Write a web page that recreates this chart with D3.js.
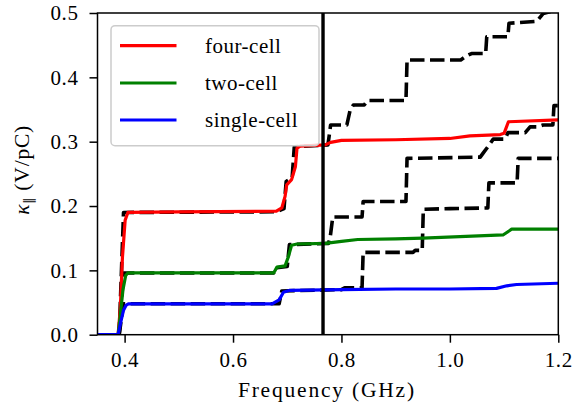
<!DOCTYPE html>
<html>
<head>
<meta charset="utf-8">
<script src="https://cdn.jsdelivr.net/npm/d3@7"></script>
<style>
  body { margin: 0; background: #fff; }
  svg { display: block; }
  text { font-family: "Liberation Serif", "Times New Roman", serif; fill: #000; }
</style>
</head>
<body>
<svg id="chart" width="573" height="406"></svg>
<script>
// Axis ticks
const xTicks = [0.4, 0.6, 0.8, 1.0, 1.2];
const yTicks = [0.0, 0.1, 0.2, 0.3, 0.4, 0.5];

// Marker frequency (GHz)
const markerFreq = 0.766;

// Loss factor vs. frequency, [GHz, V/pC] — smooth (solid) curves
const fourCell = [
  [0.35, 0], [0.388, 0], [0.392, 0.04], [0.396, 0.12], [0.401, 0.178], [0.406, 0.19],
  [0.5, 0.191], [0.68, 0.192], [0.69, 0.197], [0.696, 0.215], [0.699, 0.233],
  [0.708, 0.241], [0.715, 0.261], [0.718, 0.29], [0.724, 0.293], [0.77, 0.295],
  [0.78, 0.299], [0.80, 0.302], [0.90, 0.303], [1.0, 0.305], [1.037, 0.309],
  [1.093, 0.311], [1.1, 0.313], [1.108, 0.331], [1.2, 0.334]
];
const twoCell = [
  [0.35, 0], [0.388, 0], [0.392, 0.03], [0.397, 0.07], [0.402, 0.092], [0.406, 0.096],
  [0.675, 0.096], [0.681, 0.105], [0.696, 0.107], [0.702, 0.121], [0.708, 0.139],
  [0.718, 0.141], [0.77, 0.142], [0.80, 0.145], [0.83, 0.148], [0.9, 0.149],
  [0.95, 0.15], [1.098, 0.155], [1.114, 0.164], [1.2, 0.164]
];
const singleCell = [
  [0.35, 0], [0.388, 0], [0.393, 0.02], [0.398, 0.038], [0.403, 0.046], [0.407, 0.048],
  [0.672, 0.048], [0.685, 0.054], [0.693, 0.066], [0.705, 0.069], [0.8, 0.07],
  [0.9, 0.071], [1.0, 0.071], [1.086, 0.072], [1.105, 0.076], [1.123, 0.078],
  [1.2, 0.08]
];

// Loss factor vs. frequency, [GHz, V/pC] — stepwise (dashed) curves
const fourCellSteps = [
  [0.35, 0], [0.39, 0], [0.398, 0.19], [0.68, 0.191], [0.694, 0.196], [0.698, 0.238],
  [0.709, 0.244], [0.713, 0.292], [0.775, 0.295], [0.778, 0.313], [0.78, 0.326],
  [0.81, 0.326], [0.816, 0.349], [0.822, 0.357], [0.842, 0.357], [0.848, 0.364],
  [0.919, 0.364], [0.921, 0.427], [1.02, 0.427], [1.03, 0.433], [1.04, 0.437],
  [1.066, 0.437], [1.068, 0.463], [1.107, 0.463], [1.109, 0.484], [1.16, 0.487],
  [1.172, 0.499], [1.2, 0.506]
];
const twoCellSteps = [
  [0.35, 0], [0.39, 0], [0.398, 0.096], [0.675, 0.096], [0.68, 0.104], [0.70, 0.106],
  [0.704, 0.14], [0.776, 0.142], [0.779, 0.15], [0.784, 0.183], [0.838, 0.183],
  [0.84, 0.207], [0.919, 0.207], [0.921, 0.274], [1.056, 0.276], [1.062, 0.283],
  [1.071, 0.293], [1.08, 0.304], [1.102, 0.304], [1.107, 0.314], [1.139, 0.314],
  [1.148, 0.323], [1.161, 0.323], [1.172, 0.326], [1.19, 0.326], [1.192, 0.356],
  [1.2, 0.356]
];
const singleCellSteps = [
  [0.35, 0], [0.39, 0], [0.398, 0.048], [0.685, 0.048], [0.69, 0.068], [0.80, 0.07],
  [0.806, 0.073], [0.838, 0.073], [0.84, 0.128], [0.932, 0.128], [0.936, 0.131],
  [0.949, 0.131], [0.951, 0.195], [1.0, 0.196], [1.07, 0.197], [1.072, 0.236],
  [1.124, 0.236], [1.126, 0.274], [1.2, 0.274]
];

const legendLabels = ["four-cell", "two-cell", "single-cell"];
const seriesColors = ["#ff0000", "#008000", "#0000ff"];

const serif = '"Liberation Serif", "Times New Roman", serif';
const svg = d3.select("#chart");
const plotLeft = 97.5, plotRight = 558.3, plotTop = 13, plotBottom = 334.7;

const x = d3.scaleLinear().domain([0.35, 1.2]).range([plotLeft, plotRight]);
const y = d3.scaleLinear().domain([0, 0.5]).range([plotBottom, plotTop]);

svg.append("defs").append("clipPath").attr("id", "plot-clip")
  .append("rect")
  .attr("x", plotLeft).attr("y", plotTop)
  .attr("width", plotRight - plotLeft).attr("height", plotBottom - plotTop);

const line = d3.line().x(d => x(d[0])).y(d => y(d[1]));

const plot = svg.append("g").attr("clip-path", "url(#plot-clip)");

// dashed step curves underneath
[fourCellSteps, twoCellSteps, singleCellSteps].forEach(s => {
  plot.append("path")
    .datum(s)
    .attr("d", line)
    .attr("fill", "none")
    .attr("stroke", "#000")
    .attr("stroke-width", 3.6)
    .attr("stroke-dasharray", "14.5,5.5")
    .attr("stroke-linejoin", "round");
});

// solid curves
[fourCell, twoCell, singleCell].forEach((s, i) => {
  plot.append("path")
    .datum(s)
    .attr("d", line)
    .attr("fill", "none")
    .attr("stroke", seriesColors[i])
    .attr("stroke-width", 3.2)
    .attr("stroke-linejoin", "round");
});

// marker line
plot.append("line")
  .attr("x1", x(markerFreq)).attr("x2", x(markerFreq))
  .attr("y1", plotTop).attr("y2", plotBottom)
  .attr("stroke", "#000")
  .attr("stroke-width", 3.4);

// axes
const fmt = d3.format(".1f");
const xAxis = svg.append("g")
  .attr("transform", `translate(0,${plotBottom})`)
  .call(d3.axisBottom(x).tickValues(xTicks).tickFormat(fmt)
    .tickSizeInner(8).tickSizeOuter(0).tickPadding(9));
const yAxis = svg.append("g")
  .attr("transform", `translate(${plotLeft},0)`)
  .call(d3.axisLeft(y).tickValues(yTicks).tickFormat(fmt)
    .tickSizeInner(8).tickSizeOuter(0).tickPadding(11));

[xAxis, yAxis].forEach(g => {
  g.select(".domain").remove();
  g.selectAll(".tick line").attr("stroke", "#000").attr("stroke-width", 1.5);
  g.selectAll(".tick text")
    .style("font-family", serif)
    .style("font-size", "21px")
    .style("letter-spacing", "0.6px")
    .attr("fill", "#000");
});

// frame
svg.append("rect")
  .attr("x", plotLeft).attr("y", plotTop)
  .attr("width", plotRight - plotLeft).attr("height", plotBottom - plotTop)
  .attr("fill", "none")
  .attr("stroke", "#000")
  .attr("stroke-width", 1.5);

// axis titles
svg.append("text")
  .attr("x", (plotLeft + plotRight) / 2 - 1)
  .attr("y", 397)
  .attr("text-anchor", "middle")
  .style("font-size", "21.5px")
  .style("letter-spacing", "1.8px")
  .text("Frequency (GHz)");

const yTitle = svg.append("text")
  .attr("transform", `translate(29,${(plotTop + plotBottom) / 2 - 4}) rotate(-90)`)
  .attr("text-anchor", "middle")
  .style("font-size", "21.5px")
  .style("letter-spacing", "0.8px");
yTitle.append("tspan").style("font-style", "italic").text("κ");
yTitle.append("tspan").attr("dy", 4).style("font-size", "13px").style("letter-spacing", "0px").text("∥");
yTitle.append("tspan").attr("dy", -4).attr("dx", 6).text("(V/pC)");

// legend
const legend = svg.append("g");
legend.append("rect")
  .attr("x", 111).attr("y", 25.7)
  .attr("width", 208).attr("height", 120)
  .attr("rx", 4).attr("ry", 4)
  .attr("fill", "#fff").attr("fill-opacity", 0.8)
  .attr("stroke", "#cccccc").attr("stroke-width", 1.5);

const legendY = [45.6, 83, 120];
legendLabels.forEach((lab, i) => {
  legend.append("line")
    .attr("x1", 120).attr("x2", 176.5)
    .attr("y1", legendY[i]).attr("y2", legendY[i])
    .attr("stroke", seriesColors[i])
    .attr("stroke-width", 3.2);
  legend.append("text")
    .attr("x", 205)
    .attr("y", legendY[i] + 7)
    .style("font-size", "21px")
    .style("letter-spacing", "0.5px")
    .text(lab);
});
</script>
</body>
</html>
